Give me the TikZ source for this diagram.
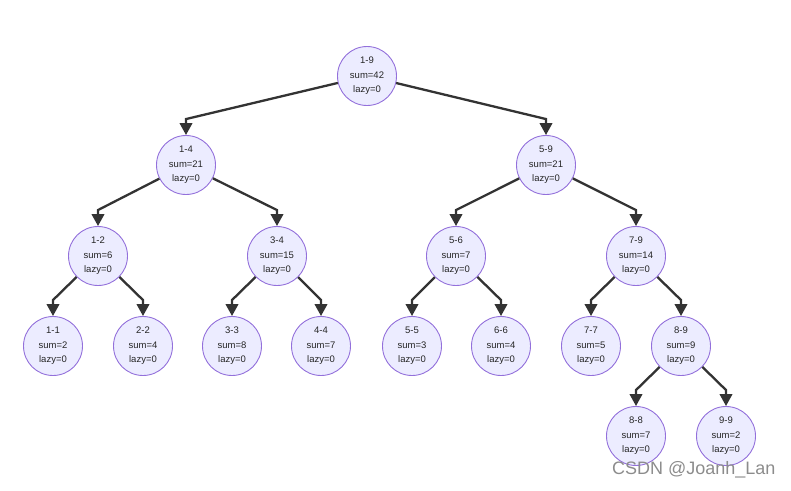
\documentclass[tikz,border=0pt]{standalone}
\usepackage{fontspec}
\setmainfont{Liberation Sans}
\usetikzlibrary{arrows.meta}
\definecolor{segfill}{HTML}{ECECFF}
\definecolor{segborder}{HTML}{9370DB}
\definecolor{segline}{HTML}{333333}
\tikzstyle{seg}     = [circle, draw=segborder, fill=segfill, line width=0.9pt, minimum size=59pt, inner sep=0pt, align=center, font=\fontsize{9.5}{14.5}\selectfont, text=black!85]
\tikzstyle{segedge} = [draw=segline, line width=2.3pt, -{Triangle[width=12.5pt,length=12pt]}]
\newcommand{\segtext}[2]{#1\\sum=#2\\lazy=0}
\begin{document}
\begin{tikzpicture}[x=1pt, y=-1pt]
        \useasboundingbox (0,0) rectangle (791,490);

        % Wurzel
        \node[seg] (n19) at (367,76) {\segtext{1-9}{42}};

        % Ebene 1
        \node[seg] (n14) at (186,165) {\segtext{1-4}{21}};
        \node[seg] (n59) at (546,165) {\segtext{5-9}{21}};

        % Ebene 2
        \node[seg] (n12) at (98,256)  {\segtext{1-2}{6}};
        \node[seg] (n34) at (277,256) {\segtext{3-4}{15}};
        \node[seg] (n56) at (456,256) {\segtext{5-6}{7}};
        \node[seg] (n79) at (636,256) {\segtext{7-9}{14}};

        % Ebene 3
        \node[seg] (n11) at (53,346)  {\segtext{1-1}{2}};
        \node[seg] (n22) at (143,346) {\segtext{2-2}{4}};
        \node[seg] (n33) at (232,346) {\segtext{3-3}{8}};
        \node[seg] (n44) at (321,346) {\segtext{4-4}{7}};
        \node[seg] (n55) at (412,346) {\segtext{5-5}{3}};
        \node[seg] (n66) at (501,346) {\segtext{6-6}{4}};
        \node[seg] (n77) at (591,346) {\segtext{7-7}{5}};
        \node[seg] (n89) at (681,346) {\segtext{8-9}{9}};

        % Ebene 4
        \node[seg] (n88) at (636,436) {\segtext{8-8}{7}};
        \node[seg] (n99) at (726,436) {\segtext{9-9}{2}};

        % Kanten
        \foreach \p/\c in {n19/n14, n19/n59,
                           n14/n12, n14/n34, n59/n56, n59/n79,
                           n12/n11, n12/n22, n34/n33, n34/n44,
                           n56/n55, n56/n66, n79/n77, n79/n89,
                           n89/n88, n89/n99}
            \draw[segedge] (\p) -- ([yshift=16pt]\c.north) -- (\c.north);

        % Wasserzeichen
        \node[text=black!45, font=\fontsize{18}{20}\selectfont, anchor=east]
            (mark) at (779,470) {CSDN @Joanh\_Lan};

    \end{tikzpicture}
\end{document}
